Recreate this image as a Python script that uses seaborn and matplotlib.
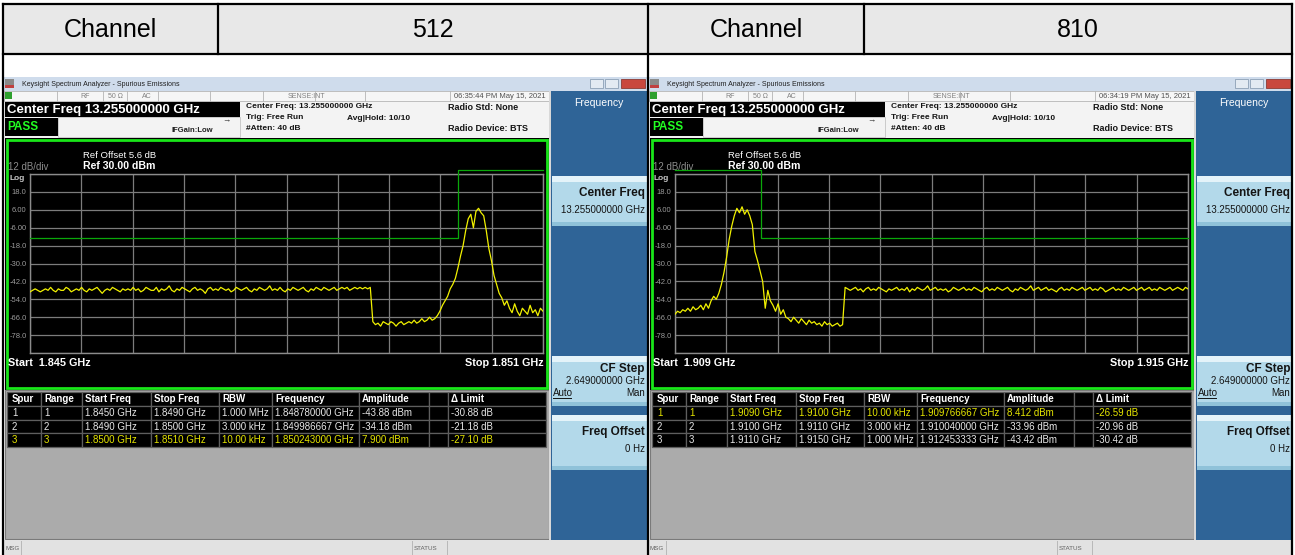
import numpy as np
import matplotlib
matplotlib.use("Agg")
import matplotlib.pyplot as plt
import seaborn as sns
from matplotlib.patches import Rectangle

# Header cells of the report table
header_labels = ["Channel", "Channel"]
channels = ["512", "810"]

# Sweep of each capture (GHz) and analyzer timestamp
start_ghz = [1.845, 1.909]
stop_ghz = [1.851, 1.915]
timestamps = ["06:35:44 PM May 15, 2021", "06:34:19 PM May 15, 2021"]

# Yellow trace (dBm), evenly spaced over the sweep
amp_512 = [
    -49, -48, -47, -48, -49, -48, -47, -48, -46, -48, -49, -47, -48, -48, -46, -47, -49, -48, -47,
    -48, -46, -48, -49, -47, -48, -47, -46, -48, -50, -48, -47, -48, -46, -47, -48, -49, -47, -48,
    -47, -48, -46, -48, -47, -49, -48, -46, -47, -48, -48, -46, -49, -47, -48, -47, -45, -48, -49,
    -47, -48, -46, -47, -48, -49, -47, -46, -48, -47, -48, -50, -47, -46, -48, -47, -48, -46, -47,
    -48, -47, -49, -48, -46, -47, -48, -47, -46, -48, -49, -47, -48, -46, -47, -48, -47, -45, -48,
    -47, -48, -46, -48, -49, -47, -48, -46, -47, -48, -47, -46, -48, -49, -47, -48, -46, -47, -48,
    -46, -47, -48, -47, -46, -48, -47, -46, -47, -46, -48, -47, -46, -47, -46, -47, -46, -47, -46,
    -69, -71, -70, -72, -69, -70, -71, -69, -70, -72, -70, -69, -71, -70, -69, -70, -68, -70, -69,
    -67, -69, -68, -66, -68, -67, -65,
    -62, -58, -55, -52, -47, -44, -40, -33, -25, -18, -8, 0, 3, -6, 5, 7, 4, 2, -8, -20,
    -28, -38, -44, -50, -53, -58, -55, -60, -63, -57, -62, -65, -60, -62, -64, -58, -63, -61, -65,
    -60, -62,
]
amp_810 = [
    -64, -62, -63, -61, -62, -60, -62, -59, -61, -60, -58, -61, -57, -60, -55, -52, -54, -50,
    -44, -36, -26, -14, -5, 2, 7, 4, 8, 3, 6, 2, -4, -22, -28, -35, -42, -60, -48, -55, -58, -62,
    -57, -64, -61, -66,
    -67, -69, -66, -68, -70, -67, -69, -71, -68, -70, -69, -71, -70, -72, -69, -71, -70, -72, -71,
    -70, -72, -71,
    -46, -47, -48, -47, -46, -48, -47, -49, -47, -46, -48, -47, -48, -46, -47, -48, -49, -47, -48,
    -47, -46, -48, -47, -48, -46, -49, -47, -48, -46, -47, -48, -47, -45, -48, -47, -46, -48, -47,
    -48, -47, -49, -48, -46, -47, -48, -47, -46, -48, -47, -48, -46, -47, -48, -49, -47, -46, -48,
    -47, -48, -46, -47, -48, -47, -46, -48, -49, -47, -48, -46, -47, -48, -47, -45, -48, -47, -46,
    -48, -47, -46, -48, -47, -48, -49, -47, -46, -48, -47, -48, -46, -47, -48, -47, -46, -48, -47,
    -46, -48, -47, -48, -46, -47, -49, -48, -47, -46, -48, -47, -48, -46, -47, -48, -47, -46, -48,
    -47, -46, -48, -47, -46, -48, -47, -48, -46, -47, -48, -47, -46, -48, -47, -46, -47, -48, -46,
    -47,
]
amp_traces = [amp_512, amp_810]

# Green limit line (dBm)
limit_freq = [[1.845, 1.850, 1.850, 1.851], [1.909, 1.910, 1.910, 1.915]]
limit_dbm = [[-13, -13, 33, 33], [33, 33, -13, -13]]

y_ticks = [30, 18, 6, -6, -18, -30, -42, -54, -66, -78, -90]
y_tick_labels = ["", "18.0", "6.00", "-6.00", "-18.0", "-30.0", "-42.0", "-54.0", "-66.0", "-78.0", ""]

# Spur table
table_head = ["Spur", "Range", "Start Freq", "Stop Freq", "RBW", "Frequency", "Amplitude", "", "\u0394 Limit"]
rows_512 = [
    ["1", "1", "1.8450 GHz", "1.8490 GHz", "1.000 MHz", "1.848780000 GHz", "-43.88 dBm", "", "-30.88 dB"],
    ["2", "2", "1.8490 GHz", "1.8500 GHz", "3.000 kHz", "1.849986667 GHz", "-34.18 dBm", "", "-21.18 dB"],
    ["3", "3", "1.8500 GHz", "1.8510 GHz", "10.00 kHz", "1.850243000 GHz", "7.900 dBm", "", "-27.10 dB"],
]
rows_810 = [
    ["1", "1", "1.9090 GHz", "1.9100 GHz", "10.00 kHz", "1.909766667 GHz", "8.412 dBm", "", "-26.59 dB"],
    ["2", "2", "1.9100 GHz", "1.9110 GHz", "3.000 kHz", "1.910040000 GHz", "-33.96 dBm", "", "-20.96 dB"],
    ["3", "3", "1.9110 GHz", "1.9150 GHz", "1.000 MHz", "1.912453333 GHz", "-43.42 dBm", "", "-30.42 dB"],
]
spur_rows = [rows_512, rows_810]
highlight_row = [2, 0]

W, H = 1295, 555
plt.rcParams["font.family"] = ["Liberation Sans", "DejaVu Sans"]
fig = plt.figure(figsize=(W / 100, H / 100), dpi=100)
bg = fig.add_axes([0, 0, 1, 1])
bg.set_xlim(0, W)
bg.set_ylim(H, 0)
bg.axis("off")


def box(x0, y0, x1, y1, fc, ec="none", lw=0.0, z=1):
    bg.add_patch(Rectangle((x0, y0), x1 - x0, y1 - y0, facecolor=fc, edgecolor=ec, linewidth=lw, zorder=z))


def txt(x, y, s, size, color="black", weight="normal", ha="left"):
    bg.text(x, y, s, fontsize=size, color=color, fontweight=weight, ha=ha, va="center", zorder=5)


def draw_screen(k, dx):
    # window frame, title bar and status row
    box(4 + dx, 77, 647 + dx, 555, "#f3f3f3")
    box(4 + dx, 77, 647 + dx, 91, "#cfdcec")
    box(5 + dx, 79, 14 + dx, 88, "#8a8a8a")
    box(5 + dx, 85, 14 + dx, 88, "#c04040")
    txt(22 + dx, 84, "Keysight Spectrum Analyzer - Spurious Emissions", 5, "#202020")
    box(590 + dx, 79, 603 + dx, 88, "#e3eaf2", "#8c9fb5", 0.6, 2)
    box(605 + dx, 79, 618 + dx, 88, "#e3eaf2", "#8c9fb5", 0.6, 2)
    box(621 + dx, 79, 645 + dx, 88, "#c9473d", "#8c3a33", 0.6, 2)
    box(4 + dx, 91, 549 + dx, 101, "#f6f6f6", "#b5b5b5", 0.6, 2)
    box(5 + dx, 92, 12 + dx, 99, "#2ea02e", z=3)
    for sx in [57, 103, 127, 158, 210, 263, 315, 365, 450]:
        bg.plot([sx + dx, sx + dx], [91, 101], color="#b5b5b5", lw=0.6, zorder=3)
    txt(80 + dx, 96, "RF", 5, "#808080")
    txt(108 + dx, 96, "50 \u03a9", 5, "#808080")
    txt(142 + dx, 96, "AC", 5, "#808080")
    txt(288 + dx, 96, "SENSE:INT", 5, "#808080")
    txt(546 + dx, 96, timestamps[k], 5.5, "#505050", ha="right")

    # measurement header
    box(5 + dx, 102, 240 + dx, 117, "black", z=2)
    txt(7 + dx, 110, "Center Freq 13.255000000 GHz", 9.5, "white", "bold")
    box(5 + dx, 118, 58 + dx, 136, "black", z=2)
    txt(7 + dx, 127, "PASS", 8.5, "#22ff22", "bold")
    box(58 + dx, 117, 240 + dx, 137, "none", "#c4c4c4", 0.6, 2)
    txt(172 + dx, 131, "IFGain:Low", 5.5, "#202020", "bold")
    txt(222 + dx, 121, "\u2192", 6, "#303030")
    txt(246 + dx, 107, "Center Freq: 13.255000000 GHz", 6, "#151515", "bold")
    txt(246 + dx, 117.5, "Trig: Free Run", 6, "#151515", "bold")
    txt(246 + dx, 128, "#Atten: 40 dB", 6, "#151515", "bold")
    txt(347 + dx, 118, "Avg|Hold: 10/10", 6, "#151515", "bold")
    txt(448 + dx, 107.5, "Radio Std: None", 6.5, "#151515", "bold")
    txt(448 + dx, 128.5, "Radio Device: BTS", 6.5, "#151515", "bold")

    # graticule area
    box(5 + dx, 138, 549 + dx, 390, "black", z=2)
    box(6.5 + dx, 140, 547 + dx, 388, "none", "#19e619", 2.0, 3)
    txt(83 + dx, 156, "Ref Offset 5.6 dB", 6.8, "white")
    txt(83 + dx, 166, "Ref 30.00 dBm", 7.6, "white", "bold")
    txt(8 + dx, 167, "12 dB/div", 7, "#8c8c8c")
    txt(9 + dx, 178, "Log", 6, "#c8c8c8", "bold")
    txt(8 + dx, 363, "Start  %.3f GHz" % start_ghz[k], 7.8, "white", "bold")
    txt(544 + dx, 363, "Stop %.3f GHz" % stop_ghz[k], 7.8, "white", "bold", ha="right")

    pax = fig.add_axes([(30 + dx) / W, (H - 353) / H, 513 / W, 179 / H])
    pax.set_facecolor("black")
    freq = np.linspace(start_ghz[k], stop_ghz[k], len(amp_traces[k]))
    sns.lineplot(x=freq, y=amp_traces[k], ax=pax, color="#f2f200", linewidth=0.9,
                 estimator=None, sort=False, zorder=4)
    sns.lineplot(x=limit_freq[k], y=limit_dbm[k], ax=pax, color="#0aa80a", linewidth=0.9,
                 estimator=None, sort=False, clip_on=False, zorder=3)
    pax.set_xlim(start_ghz[k], stop_ghz[k])
    pax.set_ylim(-90, 30)
    pax.set_xticks(np.linspace(start_ghz[k], stop_ghz[k], 11))
    pax.set_xticklabels([])
    pax.set_yticks(y_ticks)
    pax.set_yticklabels(y_tick_labels)
    pax.tick_params(length=0, labelsize=5.5, labelcolor="#9a9a9a", pad=2.5)
    pax.grid(True, color="#7c7c7c", linewidth=0.9)
    pax.set_axisbelow(True)
    for s in pax.spines.values():
        s.set_color("#8c8c8c")
        s.set_linewidth(1.0)
    pax.set_xlabel("")
    pax.set_ylabel("")

    # spur table on grey background
    box(5 + dx, 390, 549 + dx, 539, "#ababab", "#7a7a7a", 0.8, 2)
    col_x = [7, 41, 82, 151, 219, 272, 359, 429, 448, 546]
    row_y = [392, 406, 420, 433, 447]
    for r in range(4):
        for c in range(9):
            box(col_x[c] + dx, row_y[r], col_x[c + 1] + dx, row_y[r + 1], "black", "#5e5e5e", 0.9, 3)
            if r == 0:
                s, color, weight = table_head[c], "white", "bold"
            else:
                s = spur_rows[k][r - 1][c]
                color = "#e6e600" if r - 1 == highlight_row[k] else "#e8e8e8"
                weight = "normal"
            off = 5 if c == 0 else 3
            txt(col_x[c] + off + dx, (row_y[r] + row_y[r + 1]) / 2, s, 7, color, weight)

    # soft key panel
    box(549 + dx, 91, 551 + dx, 540, "#d8d8d8", z=2)
    box(551 + dx, 91, 647 + dx, 540, "#2f6497", z=2)
    txt(599 + dx, 103, "Frequency", 7.5, "white", ha="center")
    for y0, y1 in [(176, 226), (356, 406), (415, 470)]:
        box(552 + dx, y0, 647 + dx, y1, "#b3d9ea", z=3)
        box(552 + dx, y0, 647 + dx, y0 + 6, "#e4f3f9", z=3)
        box(552 + dx, y1 - 4, 647 + dx, y1, "#8fc2d9", z=3)
    txt(645 + dx, 193, "Center Freq", 8.5, "#141414", "bold", "right")
    txt(645 + dx, 210, "13.255000000 GHz", 7, "#141414", ha="right")
    txt(645 + dx, 369, "CF Step", 8.5, "#141414", "bold", "right")
    txt(645 + dx, 381, "2.649000000 GHz", 7, "#141414", ha="right")
    txt(553 + dx, 393, "Auto", 7, "#141414")
    bg.plot([553 + dx, 571 + dx], [397.5, 397.5], color="#141414", lw=0.7, zorder=6)
    txt(645 + dx, 393, "Man", 7, "#141414", ha="right")
    txt(645 + dx, 432, "Freq Offset", 8.5, "#141414", "bold", "right")
    txt(645 + dx, 449, "0 Hz", 7, "#141414", ha="right")

    # bottom status bar
    box(4 + dx, 540, 647 + dx, 555, "#e2e2e2", z=2)
    for sx in [21, 412, 447]:
        bg.plot([sx + dx, sx + dx], [541, 555], color="#b8b8b8", lw=0.7, zorder=3)
    txt(5 + dx, 549, "MSG", 4.5, "#606060")
    txt(414 + dx, 549, "STATUS", 4.5, "#606060")


# outer report table
box(3, 4, 1292, 54, "#e8e8e8")
for k, dx in enumerate([0, 645]):
    draw_screen(k, dx)
txt(110, 30, header_labels[0], 18, "black", ha="center")
txt(433, 30, channels[0], 18, "black", ha="center")
txt(756, 30, header_labels[1], 18, "black", ha="center")
txt(1078, 30, channels[1], 18, "black", ha="center")
line_kw = dict(color="black", lw=1.6, zorder=8)
bg.plot([3, 1292], [4, 4], **line_kw)
bg.plot([3, 1292], [54, 54], **line_kw)
for vx in [3, 648, 1292]:
    bg.plot([vx, vx], [4, 555], **line_kw)
for vx in [218, 864]:
    bg.plot([vx, vx], [4, 54], **line_kw)

fig.savefig("out.png", dpi=100)
